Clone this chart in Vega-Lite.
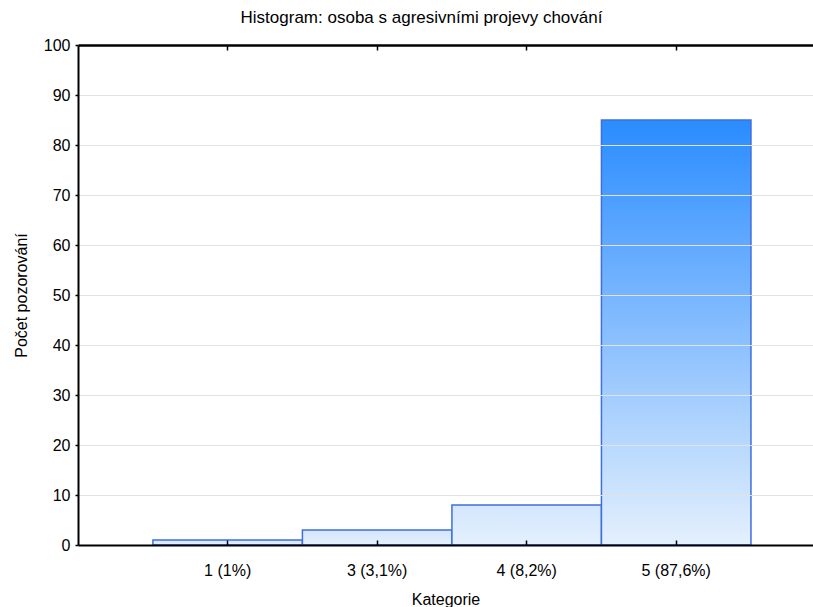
{
  "$schema": "https://vega.github.io/schema/vega-lite/v6.json",
  "width": 735,
  "height": 500,
  "autosize": "none",
  "padding": {"left": 78, "top": 45, "right": 0, "bottom": 62},
  "background": "white",
  "config": {
    "font": "Liberation Sans",
    "view": {"stroke": null},
    "axis": {"labelFont": "Liberation Sans", "titleFont": "Liberation Sans", "labelColor": "black", "titleColor": "black", "labelFontSize": 16, "titleFontSize": 16, "titleFontWeight": "normal"}
  },
  "title": {
    "text": "Histogram: osoba s agresivními projevy chování",
    "font": "Liberation Sans",
    "fontSize": 17,
    "fontWeight": "normal",
    "color": "black",
    "anchor": "middle",
    "dx": -24,
    "offset": 10
  },
  "data": {
    "values": [
      {"kategorie": "1 (1%)", "pocet": 1},
      {"kategorie": "3 (3,1%)", "pocet": 3},
      {"kategorie": "4 (8,2%)", "pocet": 8},
      {"kategorie": "5 (87,6%)", "pocet": 85}
    ]
  },
  "encoding": {
    "x": {
      "field": "kategorie",
      "type": "nominal",
      "sort": null,
      "scale": {"paddingInner": 0, "paddingOuter": 0.458, "align": 0.547}
    },
    "y": {
      "field": "pocet",
      "type": "quantitative",
      "scale": {"domain": [0, 100], "nice": false}
    }
  },
  "layer": [
    {
      "transform": [{"filter": "datum.pocet < 50"}],
      "mark": {
        "type": "bar",
        "stroke": "#3F6FDD",
        "strokeWidth": 1.5,
        "color": {"gradient": "linear", "x1": 0, "y1": 0, "x2": 0, "y2": 1, "stops": [{"offset": 0, "color": "#D3E6FD"}, {"offset": 1, "color": "#E4F0FD"}]}
      },
      "encoding": {
        "x": {
          "field": "kategorie",
          "type": "nominal",
          "sort": null,
          "axis": {"orient": "bottom", "title": "Kategorie", "labelAngle": 0, "domainColor": "black", "domainWidth": 2, "tickColor": "black", "tickSize": -5, "tickWidth": 1.5, "labelPadding": 22, "titlePadding": 13, "zindex": 2}
        },
        "y": {
          "field": "pocet",
          "type": "quantitative",
          "scale": {"domain": [0, 100], "nice": false},
          "axis": {"title": "Počet pozorování", "values": [0, 10, 20, 30, 40, 50, 60, 70, 80, 90, 100], "grid": true, "gridColor": "#E2E2E2", "gridWidth": 1, "domainColor": "black", "domainWidth": 2, "tickColor": "black", "tickSize": 3, "tickWidth": 1.5, "labelPadding": 5, "titlePadding": 14, "zindex": 2}
        }
      }
    },
    {
      "transform": [{"filter": "datum.pocet >= 50"}],
      "mark": {
        "type": "bar",
        "stroke": "#3F6FDD",
        "strokeWidth": 1.5,
        "color": {"gradient": "linear", "x1": 0, "y1": 0, "x2": 0, "y2": 1, "stops": [{"offset": 0, "color": "#2A8CFF"}, {"offset": 1, "color": "#E4F0FD"}]}
      },
      "encoding": {
        "x": {
          "field": "kategorie",
          "type": "nominal",
          "sort": null,
          "axis": {"orient": "top", "title": null, "labels": false, "domainColor": "black", "domainWidth": 2.5, "tickColor": "black", "tickSize": -5, "tickWidth": 1.5, "zindex": 2}
        }
      }
    }
  ],
  "resolve": {"axis": {"x": "independent"}}
}
